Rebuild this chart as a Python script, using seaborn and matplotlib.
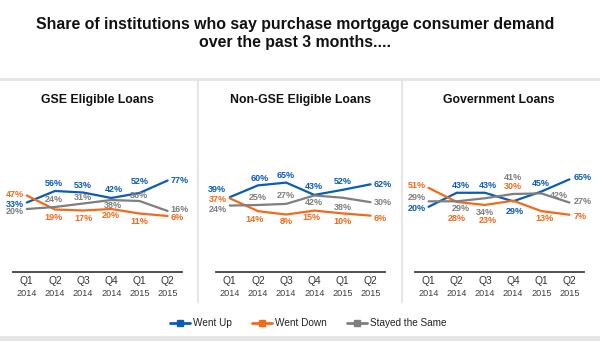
import matplotlib
matplotlib.use("Agg")
import matplotlib.pyplot as plt
from matplotlib.lines import Line2D
from matplotlib.patches import Rectangle
import numpy as np
import pandas as pd
import seaborn as sns

# ---------------- data ----------------
quarters = ["Q1", "Q2", "Q3", "Q4", "Q1", "Q2"]
years = ["2014", "2014", "2014", "2014", "2015", "2015"]
panel_titles = ["GSE Eligible Loans", "Non-GSE Eligible Loans", "Government Loans"]
series_names = ["Went Up", "Went Down", "Stayed the Same"]

gse_up = [33, 56, 53, 42, 52, 77]
gse_down = [47, 19, 17, 20, 11, 6]
gse_same = [20, 24, 31, 38, 36, 16]

nongse_up = [39, 60, 65, 43, 52, 62]
nongse_down = [37, 14, 8, 15, 10, 6]
nongse_same = [24, 25, 27, 42, 38, 30]

gov_up = [20, 43, 43, 29, 45, 65]
gov_down = [51, 28, 23, 30, 13, 7]
gov_same = [29, 29, 34, 41, 42, 27]

# ---------------- styling / placement ----------------
colors = {"Went Up": "#0a5db5", "Went Down": "#f26a1b", "Stayed the Same": "#7f7f7f"}

# label offsets in pixels (dx, dy) for each point
label_offsets = [
    {"Went Up": [(-3, -2), (-1, 8), (0, 7), (3, 8), (0, 11), (3, 0)],
     "Went Down": [(-3, 1), (-1, -8), (0, -8), (0, -7), (0, -8), (3, -1)],
     "Stayed the Same": [(-3, -3), (-1, 8), (0, 6), (2, -6), (0, 6), (3, 2)]},
    {"Went Up": [(-4, 8), (2, 7), (0, 7), (0, 8), (0, 8), (3, 0)],
     "Went Down": [(-3, -1), (-3, -8), (0, -7), (-3, -7), (0, -8), (3, -3)],
     "Stayed the Same": [(-3, -4), (0, 7), (0, 8), (0, -7), (0, -10), (3, 0)]},
    {"Went Up": [(-3, -2), (4, 7), (3, 7), (2, -10), (0, 8), (4, 2)],
     "Went Down": [(-3, 2), (0, -17), (3, -16), (0, 14), (3, -7), (4, -2)],
     "Stayed the Same": [(-3, 4), (4, -7), (0, -14), (0, 16), (18, -2), (4, 1)]},
]

panel_data = [
    {"Went Up": gse_up, "Went Down": gse_down, "Stayed the Same": gse_same},
    {"Went Up": nongse_up, "Went Down": nongse_down, "Stayed the Same": nongse_same},
    {"Went Up": gov_up, "Went Down": gov_down, "Stayed the Same": gov_same},
]

rows = []
for p, title in enumerate(panel_titles):
    for s in series_names:
        for i, v in enumerate(panel_data[p][s]):
            rows.append({"panel": title, "series": s, "idx": i, "value": v})
df = pd.DataFrame(rows)

sns.set_style("white")
plt.rcParams["font.family"] = ["Liberation Sans", "DejaVu Sans"]

W, H = 600, 345
fig = plt.figure(figsize=(W / 100, H / 100), dpi=100)


def fy(py):
    return 1 - py / H


# frame bands
fig.add_artist(Rectangle((0, fy(80.5)), 1, 2.5 / H, transform=fig.transFigure,
                         color="#e6e6e6", lw=0, zorder=0))
for xs in (197, 401):
    fig.add_artist(Rectangle((xs / W, fy(303)), 2.2 / W, (303 - 80) / H,
                             transform=fig.transFigure, color="#e6e6e6", lw=0, zorder=0))
fig.add_artist(Rectangle((0, fy(341)), 1, 5 / H, transform=fig.transFigure,
                         color="#e6e6e6", lw=0, zorder=0))

# title
fig.text(295 / W, fy(25), "Share of institutions who say purchase mortgage consumer demand",
         ha="center", va="center", fontsize=11.4, fontweight="bold", color="#111111")
fig.text(295 / W, fy(42), "over the past 3 months....",
         ha="center", va="center", fontsize=11.4, fontweight="bold", color="#111111")

lefts = [12.7, 215.7, 414.5]
scales = [0.50, 0.56, 0.61]  # pixels per percent
zero_y, axis_y, top_y = 219, 272, 110
aw = 169

for p, title in enumerate(panel_titles):
    ax = fig.add_axes([lefts[p] / W, fy(axis_y), aw / W, (axis_y - top_y) / H])
    ax.patch.set_alpha(0)
    s = scales[p]
    sub = df[df["panel"] == title]
    sns.lineplot(data=sub, x="idx", y="value", hue="series", hue_order=series_names,
                 palette=colors, linewidth=1.6, legend=False, ax=ax, sort=False)
    ax.set_xlim(-0.5, 5.5)
    ax.set_ylim(-(axis_y - zero_y) / s, (zero_y - top_y) / s)
    for sp in ("top", "right", "left"):
        ax.spines[sp].set_visible(False)
    ax.spines["bottom"].set_color("#404040")
    ax.spines["bottom"].set_linewidth(1.3)
    ax.set_xticks(np.arange(-0.5, 6.0, 1.0))
    ax.set_xticklabels([])
    ax.set_yticks([])
    ax.tick_params(axis="x", direction="out", length=2.5, width=1, color="#404040", pad=0)
    ax.set_xlabel("")
    ax.set_ylabel("")
    ax.grid(False)

    # category labels
    for i, (q, yr) in enumerate(zip(quarters, years)):
        ax.annotate(q, (i, 0), xycoords=ax.get_xaxis_transform(), xytext=(0, -9),
                    textcoords="offset pixels", ha="center", va="center",
                    fontsize=7.4, color="#333333")
        ax.annotate(yr, (i, 0), xycoords=ax.get_xaxis_transform(), xytext=(0, -21),
                    textcoords="offset pixels", ha="center", va="center",
                    fontsize=6.6, color="#404040")

    # panel title
    ax.annotate(title, (0.5, 1), xycoords="axes fraction", xytext=(0, top_y - 100),
                textcoords="offset pixels", ha="center", va="center",
                fontsize=8.8, fontweight="bold", color="#111111")

    # value labels
    for sname in series_names:
        vals = panel_data[p][sname]
        for i, v in enumerate(vals):
            dx, dy = label_offsets[p][sname][i]
            ha = "right" if i == 0 else ("left" if i == len(vals) - 1 else "center")
            ax.annotate(f"{v}%", (i, v), xytext=(dx, dy), textcoords="offset pixels",
                        ha=ha, va="center", fontsize=6.5, fontweight="bold",
                        color=colors[sname])

handles = [Line2D([0], [0], color=colors[s], lw=2, marker="s", markersize=4)
           for s in series_names]
fig.legend(handles, series_names, loc="center", bbox_to_anchor=(308.5 / W, fy(323)),
           ncol=3, frameon=False, fontsize=7.2, handlelength=2.0, handletextpad=0.3,
           columnspacing=2.0, labelcolor="#222222")

fig.savefig("out.png", dpi=100)
